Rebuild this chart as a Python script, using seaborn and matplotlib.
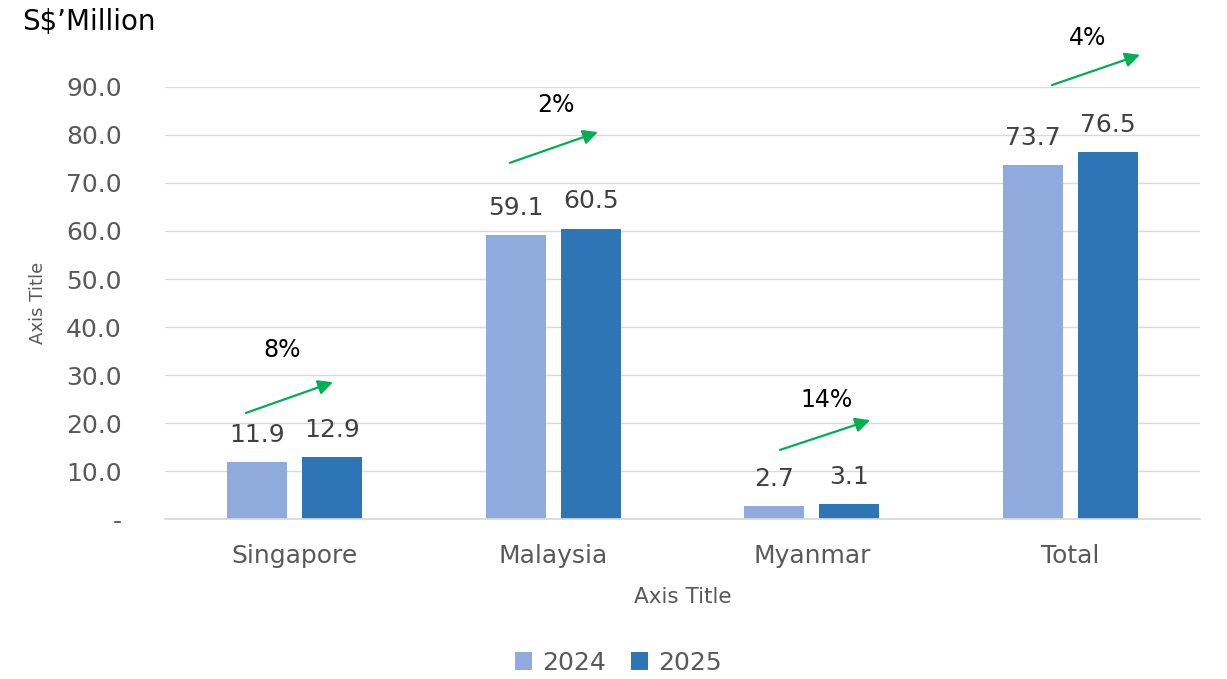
import matplotlib
matplotlib.use("Agg")
import matplotlib.pyplot as plt
import seaborn as sns
import pandas as pd

categories = ["Singapore", "Malaysia", "Myanmar", "Total"]
years = ["2024", "2025"]
values_2024 = [11.9, 59.1, 2.7, 73.7]
values_2025 = [12.9, 60.5, 3.1, 76.5]
growth = ["8%", "2%", "14%", "4%"]
yticks = [0, 10, 20, 30, 40, 50, 60, 70, 80, 90]
ytick_labels = ["-", "10.0", "20.0", "30.0", "40.0", "50.0", "60.0", "70.0", "80.0", "90.0"]
colors = ["#8FAADC", "#2E75B6"]

df = pd.DataFrame({
    "Region": categories * 2,
    "Year": [years[0]] * 4 + [years[1]] * 4,
    "Value": values_2024 + values_2025,
})

sns.set_theme(style="white")
plt.rcParams["font.family"] = ["DejaVu Sans"]

fig = plt.figure(figsize=(12.27, 6.79), dpi=100)
ax = fig.add_axes([0.1345, 0.2356, 0.8435, 0.6363])

sns.barplot(data=df, x="Region", y="Value", hue="Year", palette=colors,
            saturation=1, width=0.58, gap=0.2, ax=ax, legend=True,
            edgecolor="none", linewidth=0)

ax.set_ylim(0, 90)
ax.set_xlim(-0.5, 3.5)
ax.set_yticks(yticks)
ax.set_yticklabels(ytick_labels)
ax.yaxis.grid(True, color="#D9D9D9", linewidth=1)
ax.set_axisbelow(True)
for s in ["top", "right", "left"]:
    ax.spines[s].set_visible(False)
ax.spines["bottom"].set_color("#D9D9D9")
ax.tick_params(axis="both", length=0, labelsize=18, labelcolor="#595959")
ax.tick_params(axis="y", pad=31)
ax.tick_params(axis="x", pad=18)
for lbl in ax.get_yticklabels():
    lbl.set_horizontalalignment("right")

ax.set_xlabel("Axis Title", fontsize=15.5, color="#595959", labelpad=14)
ax.set_ylabel("Axis Title", fontsize=13, color="#595959", labelpad=14)

for cont in ax.containers:
    ax.bar_label(cont, fmt="%.1f", padding=11, fontsize=18, color="#404040")

# growth arrows
arrow_start = [(-0.187, 22.1), (0.833, 74.2), (1.877, 14.4), (2.928, 90.4)]
arrow_end = [(0.149, 28.5), (1.173, 80.6), (2.225, 20.6), (3.268, 96.7)]
label_pos = [(-0.048, 35.2), (1.011, 86.3), (2.055, 24.8), (3.067, 100.2)]
for g, st, en, lp in zip(growth, arrow_start, arrow_end, label_pos):
    ax.annotate("", xy=en, xytext=st,
                arrowprops=dict(arrowstyle="-|>", color="#00B050", lw=1.6,
                                mutation_scale=22, shrinkA=0, shrinkB=0),
                annotation_clip=False)
    ax.text(lp[0], lp[1], g, fontsize=17, color="black", ha="center", va="center",
            clip_on=False)

leg = ax.legend(loc="center", bbox_to_anchor=(0.438, -0.333), ncol=2, frameon=False,
                fontsize=18, handlelength=0.7, handleheight=0.7, handletextpad=0.4,
                columnspacing=1.0)
for t in leg.get_texts():
    t.set_color("#595959")

fig.text(0.018, 0.967, "S$\u2019Million", fontsize=20, color="black", ha="left", va="center")

fig.savefig("out.png", dpi=100)
